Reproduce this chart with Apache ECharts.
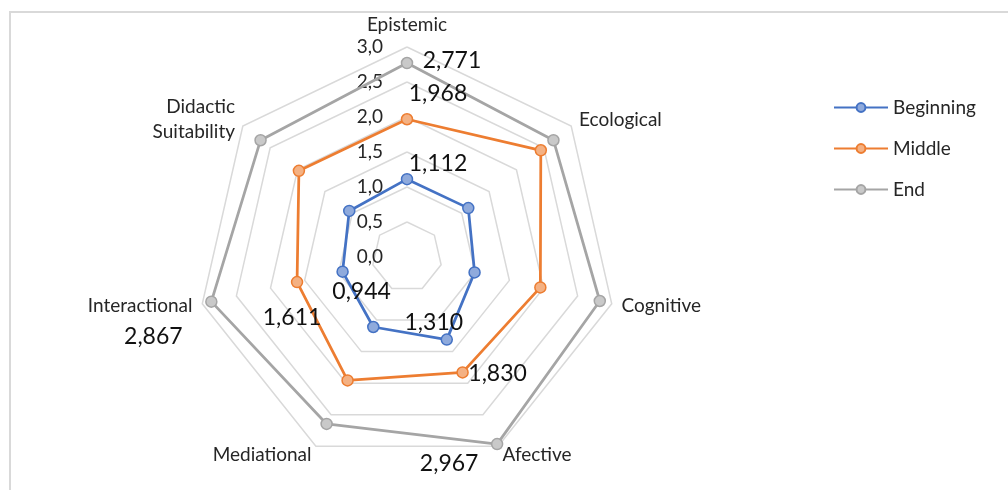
<!DOCTYPE html>
<html>
<head>
<meta charset="utf-8">
<script src="https://cdn.jsdelivr.net/npm/echarts@6/dist/echarts.min.js"></script>
<style>
html,body{margin:0;padding:0;background:#fff;}
#frame{position:absolute;left:9px;top:11px;width:1010px;height:490px;border-top:2px solid #d9d9d9;border-left:2px solid #d9d9d9;box-sizing:border-box;}
#main{position:absolute;left:0;top:0;width:1008px;height:490px;}
</style>
</head>
<body>
<div id="frame"></div>
<div id="main"></div>
<script>
const indicators = ['Epistemic', 'Ecological', 'Cognitive', 'Afective', 'Mediational', 'Interactional', 'Didactic\nSuitability'];
const seriesNames = ['Beginning', 'Middle', 'End'];
const beginning = [1.112, 1.12, 0.99, 1.310, 1.11, 0.944, 1.055];
const middle = [1.968, 2.445, 1.954, 1.830, 1.957, 1.611, 1.975];
const end = [2.771, 2.676, 2.825, 2.967, 2.647, 2.867, 2.676];
const axisMin = 0;
const axisMax = 3;
const axisSplits = 6;
const labeledAxes = [0, 3, 5];

const lineColors = ['#4472C4', '#ED7D31', '#A5A5A5'];
const fillColors = ['#8FAADC', '#F4B183', '#C9C9C9'];
const values = [beginning, middle, end];
const FONT = 'Lato';
const fmt = v => v.toFixed(1).replace('.', ',');
const fmt3 = v => v.toFixed(3).replace('.', ',');

// ECharts lays radar indicators counter-clockwise; the reference goes clockwise.
const order = indicators.map((_, i) => (indicators.length - i) % indicators.length);
const pos = {};
order.forEach((src, k) => { pos[src] = k; });
const reorder = arr => order.map(i => arr[i]);

const chart = echarts.init(document.getElementById('main'), null, {renderer: 'canvas'});

const radarSeries = seriesNames.map((n, i) => ({
  type: 'radar',
  name: n,
  z: 3 + i,
  data: [{value: reorder(values[i]), name: n}],
  symbol: 'circle',
  symbolSize: 11,
  lineStyle: {color: lineColors[i], width: 2.75},
  itemStyle: {color: fillColors[i], borderColor: lineColors[i], borderWidth: 1.5}
}));
const legendSeries = seriesNames.map((n, i) => ({
  type: 'line',
  name: n,
  data: [],
  symbol: 'circle',
  symbolSize: 11,
  lineStyle: {color: lineColors[i], width: 3},
  itemStyle: {color: fillColors[i], borderColor: lineColors[i], borderWidth: 1.5}
}));

const option = {
  animation: false,
  backgroundColor: 'transparent',
  textStyle: {fontFamily: FONT},
  grid: {left: 0, top: 0, width: 10, height: 10, show: false},
  xAxis: {show: false, type: 'value'},
  yAxis: {show: false, type: 'value'},
  legend: {
    orient: 'vertical',
    left: 828,
    top: 92,
    itemWidth: 54,
    itemHeight: 11,
    itemGap: 20,
    textStyle: {fontFamily: FONT, fontSize: 19, color: '#262626', lineHeight: 21},
    data: seriesNames
  },
  radar: {
    center: [407, 257],
    radius: 210,
    startAngle: 90,
    shape: 'polygon',
    splitNumber: axisSplits,
    axisName: {color: '#262626', fontFamily: FONT, fontSize: 19, lineHeight: 25},
    nameGap: 10,
    axisLine: {show: false},
    axisTick: {show: false},
    axisLabel: {show: false},
    splitArea: {show: false},
    splitLine: {lineStyle: {color: '#D9D9D9', width: 1.5}},
    indicator: order.map((src, k) => {
      const o = {name: indicators[src], min: axisMin, max: axisMax};
      if (k === 0) {
        o.axisLabel = {show: true, formatter: fmt, fontFamily: FONT, fontSize: 19, color: '#262626', margin: 24};
      }
      return o;
    })
  },
  series: legendSeries.concat(radarSeries)
};
chart.setOption(option);

// data labels on selected axes, positioned through the radar coordinate system
const offsets = [
  {0: [31, -16], 3: [-13, -17], 5: [19, 20]},
  {0: [31, -26], 3: [35, 1], 5: [-5, 35]},
  {0: [45, -2], 3: [-48, 19], 5: [-58, 35]}
];
const cs = chart.getModel().getComponent('radar').coordinateSystem;
const graphics = [];
values.forEach((arr, si) => {
  labeledAxes.forEach(ai => {
    const p = cs.dataToPoint(arr[ai], pos[ai]);
    const off = offsets[si][ai];
    graphics.push({
      type: 'text',
      x: p[0] + off[0],
      y: p[1] + off[1],
      z: 20,
      style: {text: fmt3(arr[ai]), fontFamily: FONT, fontSize: 23, fill: '#111', align: 'center', verticalAlign: 'middle'}
    });
  });
});
chart.setOption({graphic: graphics});
</script>
</body>
</html>
